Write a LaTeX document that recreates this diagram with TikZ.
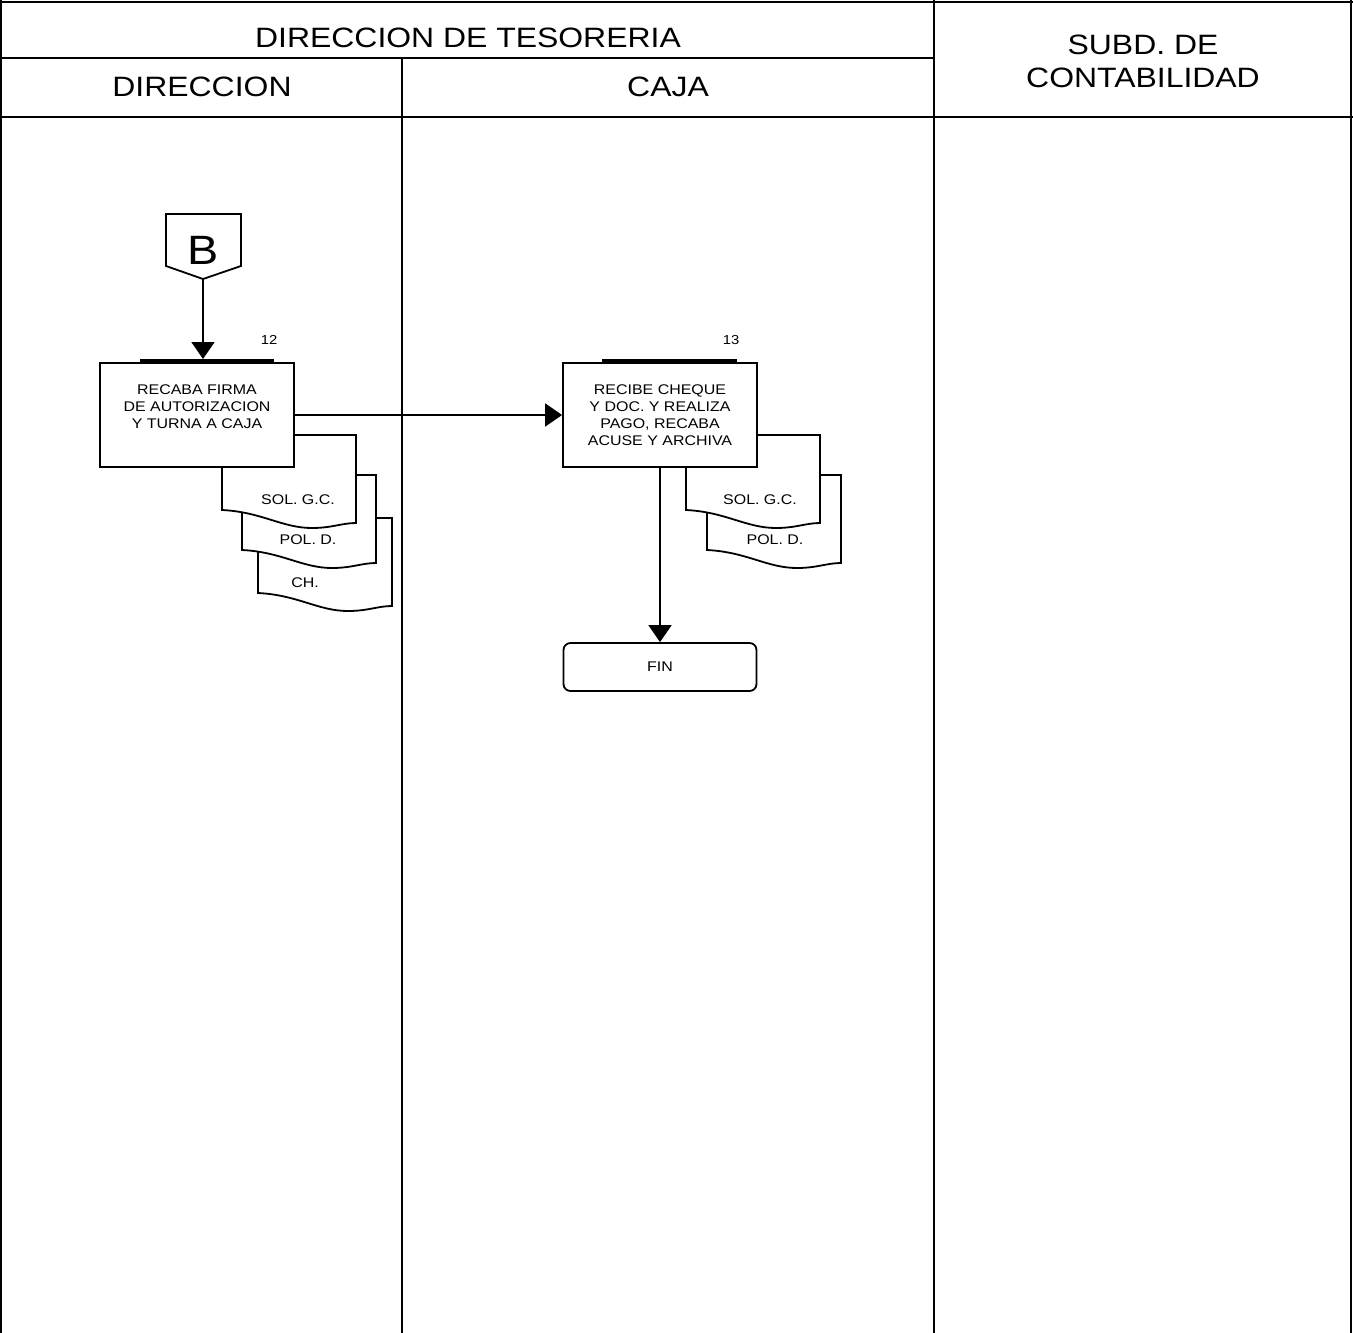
\documentclass[tikz,border=0pt]{standalone}
\usepackage{fontspec}
\setmainfont{Liberation Sans}[FakeStretch=1.14]
\usetikzlibrary{arrows.meta}

% document symbol: top-left corner (#2,#3), label x offset #4
\newcommand\docsheet[5]{%
  \begin{scope}[shift={(#2,#3)}]
    \draw[shapeline, fill=white] (0,0) -- (134,0) -- (134,88)
      .. controls (120,88) and (110,93) .. (90,93)
      .. controls (60,93) and (40,77) .. (0,75) -- cycle;
    \node[small] (#1) at (#4,65) {#5};
  \end{scope}}

\begin{document}
\begin{tikzpicture}[x=1pt,y=-1pt,
  frame/.style={line width=2pt},
  shapeline/.style={line width=1.8pt},
  hdr/.style={font=\fontsize{28}{33}\selectfont, align=center, inner sep=0},
  small/.style={font=\fontsize{14}{17}\selectfont, align=center, inner sep=0},
  num/.style={font=\fontsize{13}{15}\selectfont, inner sep=0},
  procbox/.style={draw, shapeline, fill=white, minimum width=194pt, minimum height=104pt, inner sep=0},
  endbox/.style={draw, shapeline, fill=white, rounded corners=7pt, minimum width=193pt, minimum height=48pt, inner sep=0, font=\fontsize{14}{17}\selectfont},
  flow/.style={shapeline, -{Triangle[length=17pt,width=23pt]}},
  bar/.style={line width=3.5pt},
]
\useasboundingbox (0,0) rectangle (1353,1333);

% swimlane frame
\draw[frame] (1,0) -- (1,1333);
\draw[frame] (1351,0) -- (1351,1333);
\draw[frame] (0,1.5) -- (1353,1.5);
\draw[frame] (0,58) -- (934,58);
\draw[frame] (0,117) -- (1353,117);
\draw[frame] (402,58) -- (402,1333);
\draw[frame] (934,0) -- (934,1333);

% lane headers
\node[hdr] (tes) at (468,37.5) {DIRECCION DE TESORERIA};
\node[hdr] (sub) at (1143,61) {SUBD. DE\\CONTABILIDAD};
\node[hdr] (dir) at (202,87) {DIRECCION};
\node[hdr] (caja) at (668,87) {CAJA};

% off-page connector B
\draw[shapeline] (166,214) -- (241,214) -- (241,266) -- (203,279) -- (166,266) -- cycle;
\node[font=\fontsize{41}{41}\selectfont, inner sep=0] (conB) at (203,250) {B};
\coordinate (conBtip) at (203,279);
\coordinate (in12) at (203,359);

% step 12 documents
\docsheet{ch12}{258}{518}{47}{CH.}
\docsheet{pol12}{242}{475}{66}{POL. D.}
\docsheet{sol12}{222}{435}{76}{SOL. G.C.}

% step 12
\node[procbox] (box12) at (197,415) {};
\draw[bar] (140,361) -- (274,361);
\node[small, anchor=north] (t12) at (197,385) {RECABA FIRMA\\DE AUTORIZACION\\Y TURNA A CAJA};
\node[num] (n12) at (269,340) {12};

% step 13 documents
\docsheet{pol13}{707}{475}{68}{POL. D.}
\docsheet{sol13}{686}{435}{74}{SOL. G.C.}

% step 13
\node[procbox] (box13) at (660,415) {};
\draw[bar] (602,361) -- (737,361);
\node[small, anchor=north] (t13) at (660,385) {RECIBE CHEQUE\\Y DOC. Y REALIZA\\PAGO, RECABA\\ACUSE Y ARCHIVA};
\node[num] (n13) at (731,340) {13};

% end
\node[endbox] (fin) at (660,667) {FIN};

% connectors
\draw[flow] (conBtip) -- (in12);
\draw[flow] (box12.east) -- (box13.west);
\draw[flow] (box13.south) -- (fin.north);
\end{tikzpicture}
\end{document}
